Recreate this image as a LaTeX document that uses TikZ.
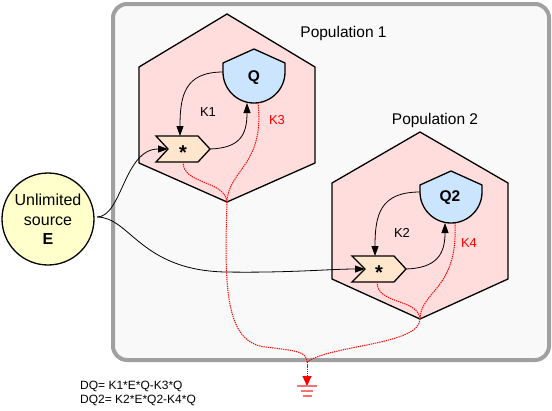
\documentclass[tikz,border=0pt]{standalone}
\usepackage{fontspec}
\setmainfont{Liberation Sans}
\usetikzlibrary{arrows.meta}
\definecolor{boxgray}{HTML}{A0A0A0}
\definecolor{boxfill}{HTML}{F9F9F9}
\definecolor{hexfill}{HTML}{FFDDDD}
\definecolor{qfill}{HTML}{CCE5FF}
\definecolor{starfill}{HTML}{FFE6CC}
\definecolor{srcfill}{HTML}{FFFFCC}
\definecolor{lossred}{HTML}{FF0000}
\definecolor{gndred}{HTML}{FF7070}
\tikzset{
  lbl/.style={inner sep=0pt, anchor=base},
  eqlbl/.style={inner sep=0pt, anchor=base west, font=\fontsize{12}{14}\selectfont},
  hexshape/.style={draw=black, fill=hexfill, line width=1.3pt, line join=miter},
  qshape/.style={draw=black, fill=qfill, line width=1.3pt},
  starshape/.style={draw=black, fill=starfill, line width=1.3pt},
  flow/.style={draw=black, line width=0.8pt, -{Triangle[length=10pt,width=7pt]}},
  loss/.style={draw=lossred, line width=1pt, dash pattern=on 1.3pt off 0.9pt},
}
\begin{document}
\begin{tikzpicture}[x=1pt,y=-1pt]
\useasboundingbox (0,0) rectangle (552,410);
% container
\draw[draw=boxgray, fill=boxfill, line width=4pt, rounded corners=14pt] (113,4) rectangle (549,360);
% hexagons
\draw[hexshape] (227,14) -- (315,67) -- (315,163) -- (227,202) -- (139,163) -- (139,67) -- cycle;
\draw[hexshape] (420,132) -- (508,183) -- (508,279) -- (420,319) -- (332,279) -- (332,183) -- cycle;
% Q shapes
\draw[qshape] (223,63) -- (254,49) -- (285,63) -- (285,72) .. controls (285,89.1) and (271.1,103) .. (254,103) .. controls (236.9,103) and (223,89.1) .. (223,72) -- cycle;
\draw[qshape] (420,185) -- (451,171) -- (482,185) -- (482,192) .. controls (482,209.1) and (468.1,223) .. (451,223) .. controls (433.9,223) and (420,209.1) .. (420,192) -- cycle;
% star (multiplication) shapes
\draw[starshape] (156,136) -- (198,136) -- (210,149) -- (198,162) -- (156,162) -- (168,149) -- cycle;
\draw[starshape] (352,256) -- (394,256) -- (406,269) -- (394,282) -- (352,282) -- (365,269) -- cycle;
% source
\node[circle, draw=black, fill=srcfill, line width=1.3pt, minimum size=92pt, inner sep=0pt] (src) at (48,219) {};
% texts
\node[lbl] (t1a) at (48,205) {\fontsize{16}{16}\selectfont Unlimited};
\node[lbl] (t1b) at (48,225) {\fontsize{16}{16}\selectfont source};
\node[lbl] (t1c) at (48,244) {\fontsize{16}{16}\selectfont\bfseries E};
\node[lbl] (q1) at (254,81) {\fontsize{15.5}{15.5}\selectfont\bfseries Q};
\node[lbl] (q2) at (450,201) {\fontsize{15.5}{15.5}\selectfont\bfseries Q2};
\node[lbl] (m1) at (183,159) {\fontsize{20}{20}\selectfont\bfseries *};
\node[lbl] (m2) at (379,279.5) {\fontsize{20}{20}\selectfont\bfseries *};
\node[lbl] (pop1) at (343.5,37.5) {\fontsize{15.5}{15.5}\selectfont Population 1};
\node[lbl] (pop2) at (435,124) {\fontsize{15.5}{15.5}\selectfont Population 2};
\node[lbl] (k1) at (208,116) {\fontsize{13}{13}\selectfont K1};
\node[lbl] (k2) at (402,237) {\fontsize{13}{13}\selectfont K2};
\node[lbl, text=lossred] (k3) at (277,124) {\fontsize{13}{13}\selectfont K3};
\node[lbl, text=lossred] (k4) at (469,247) {\fontsize{13}{13}\selectfont K4};
\node[eqlbl] (eq1) at (80,389) {DQ= K1*E*Q-K3*Q};
\node[eqlbl] (eq2) at (80,403) {DQ2= K2*E*Q2-K4*Q};
% anchor points
\coordinate (srcE) at (97,217);
\coordinate (q1w) at (223,72);
\coordinate (q1s) at (247,103);
\coordinate (q1b) at (258,103);
\coordinate (s1n) at (180,136);
\coordinate (s1tip) at (210,149);
\coordinate (s1in) at (168,149);
\coordinate (s1s) at (183,162);
\coordinate (h1b) at (227,202);
\coordinate (q2w) at (420,192);
\coordinate (q2s) at (445,223);
\coordinate (q2b) at (455,223);
\coordinate (s2n) at (375,256);
\coordinate (s2tip) at (406,269);
\coordinate (s2in) at (365,269);
\coordinate (s2s) at (377,282);
\coordinate (h2b) at (420,319);
\coordinate (mid2) at (225,272);
\coordinate (merge) at (307,362);
\coordinate (gnd) at (307,386);
% flows from source
\draw[flow] (srcE) .. controls (122,217) and (124,149) .. (s1in);
\draw[flow] (srcE) .. controls (130,217) and (140,270) .. (mid2) .. controls (290,273) and (330,269) .. (s2in);
% population 1 arrows
\draw[flow] (q1w) .. controls (185,72) and (180,95) .. (s1n);
\draw[flow] (s1tip) .. controls (240,148) and (247,135) .. (q1s);
% population 2 arrows
\draw[flow] (q2w) .. controls (380,192) and (375,215) .. (s2n);
\draw[flow] (s2tip) .. controls (436,268) and (445,255) .. (q2s);
% losses
\draw[loss] (s1s) .. controls (183,185) and (225,180) .. (h1b);
\draw[loss] (q1b) .. controls (265,165) and (228,170) .. (h1b);
\draw[loss] (h1b) .. controls (224,290) and (226,342) .. (265,347) .. controls (300,351) and (306,352) .. (merge);
\draw[loss] (s2s) .. controls (377,305) and (418,298) .. (h2b);
\draw[loss] (q2b) .. controls (458,290) and (421,290) .. (h2b);
\draw[loss] (h2b) .. controls (420,345) and (330,345) .. (merge);
\draw[loss, -{Triangle[length=10pt,width=9pt,fill=lossred]}] (merge) -- (gnd);
% ground symbol
\draw[gndred, line width=1.8pt] ([xshift=-10pt]gnd) -- ([xshift=10pt]gnd);
\draw[gndred, line width=1.3pt] ([xshift=-6pt,yshift=-5pt]gnd) -- ([xshift=6pt,yshift=-5pt]gnd);
\draw[gndred, line width=1.3pt] ([xshift=-4.5pt,yshift=-10pt]gnd) -- ([xshift=4.5pt,yshift=-10pt]gnd);
\end{tikzpicture}
\end{document}
